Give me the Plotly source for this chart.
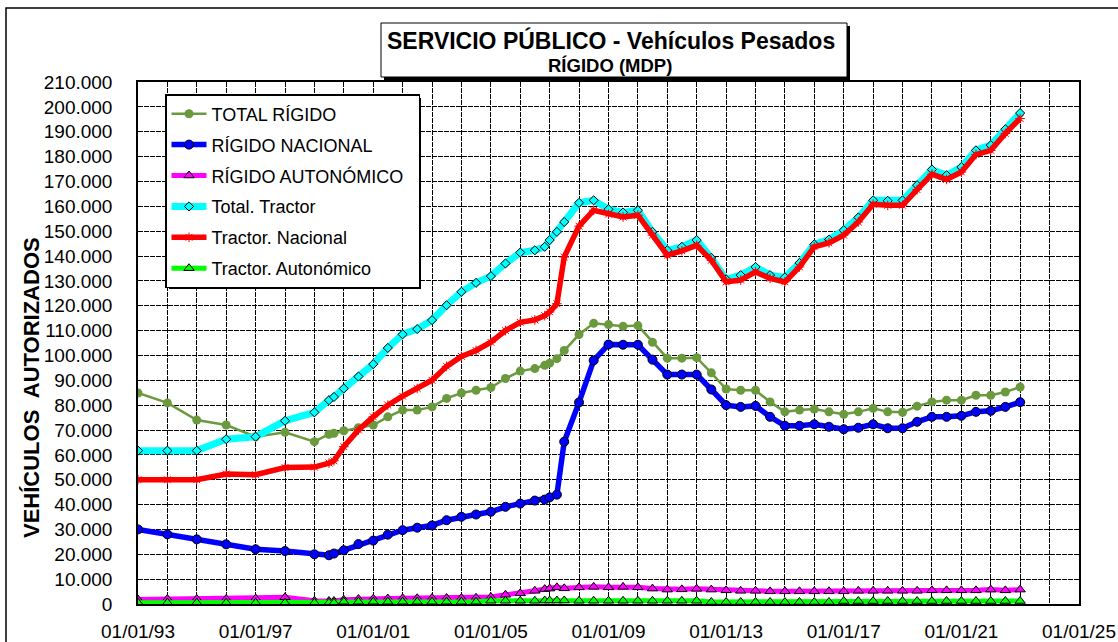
import plotly.graph_objects as go

# ---------------- data ----------------
dates = [
    "1993-01-01", "1994-01-01", "1995-01-01", "1996-01-01", "1997-01-01", "1998-01-01", "1999-01-01",
    "1999-07-01", "1999-09-01",
    "2000-01-01", "2000-07-01", "2001-01-01", "2001-07-01", "2002-01-01", "2002-07-01", "2003-01-01",
    "2003-07-01", "2004-01-01", "2004-07-01", "2005-01-01", "2005-07-01", "2006-01-01", "2006-07-01",
    "2006-11-01", "2007-01-01", "2007-04-01", "2007-07-01",
    "2008-01-01", "2008-07-01", "2009-01-01", "2009-07-01", "2010-01-01", "2010-07-01", "2011-01-01",
    "2011-07-01", "2012-01-01", "2012-07-01", "2013-01-01", "2013-07-01", "2014-01-01", "2014-07-01",
    "2015-01-01", "2015-07-01", "2016-01-01", "2016-07-01", "2017-01-01", "2017-07-01", "2018-01-01",
    "2018-07-01", "2019-01-01", "2019-07-01", "2020-01-01", "2020-07-01", "2021-01-01", "2021-07-01",
    "2022-01-01", "2022-07-01", "2023-01-01",
]

total_rigido = [
    84900, 80900, 74000, 72000, 67300, 69100, 65300,
    68300, 68700,
    69700, 70900, 72000, 75300, 78000, 78000, 79300, 82700, 84900, 86000, 87100, 90700, 93700, 94700,
    96000, 96900, 98700, 102000,
    108400, 112900, 112400, 111700, 112000, 105300, 98900, 98900, 99100, 93000, 86500, 86000, 86000,
    81300, 77300, 78000, 78400, 77300, 76300, 77300, 78700, 77300, 77100, 79600, 81300, 82000, 82000,
    84000, 84000, 85300, 87300,
]

rigido_nacional = [
    30000, 28000, 26000, 24000, 22000, 21300, 20000,
    19600, 20300,
    21600, 24100, 25500, 27900, 29700, 30700, 31600, 33700, 35100, 36000, 37100, 39100, 40400, 41600,
    42000, 42900, 44000, 65300,
    81100, 98000, 104400, 104300, 104300, 98300, 92300, 92300, 92300, 86300, 80000, 79300, 79700,
    75300, 71700, 71700, 72300, 71300, 70300, 70900, 72300, 70700, 70700, 73300, 75300, 75300, 75700,
    77300, 77700, 79300, 81200,
]

rigido_autonomico = [
    1800, 2000, 2000, 2000, 2200, 2700, 1300,
    1200, 1200,
    1700, 2000, 2100, 2200, 2300, 2300, 2400, 2400, 2400, 2500, 2800, 3700, 4300, 5300,
    6000, 6200, 6700, 6300,
    6700, 6900, 6700, 6900, 6700, 6200, 5800, 5900, 6100, 5800, 5500, 5300, 5300,
    5100, 5100, 5100, 5100, 5100, 5100, 5300, 5300, 5300, 5300, 5300, 5500, 5500, 5500,
    5500, 5800, 5500, 5800,
]

total_tractor = [
    61700, 61700, 61700, 66300, 67300, 73700, 77100,
    82000, 83300,
    86700, 91500, 96500, 103000, 108500, 110600, 114200, 120200, 125600, 129200, 131900, 137000, 141400, 142300,
    143700, 146400, 149700, 153700,
    161400, 162400, 158800, 157500, 158400, 149700, 142300, 143700, 146400, 139300, 130600, 132300, 135600,
    132300, 131400, 137200, 144700, 146600, 150400, 155500, 162400, 162200, 162400, 168500, 174800, 172500, 175800,
    182500, 184600, 191000, 197500,
]

tractor_nacional = [
    50000, 50000, 50000, 52300, 52000, 54900, 55100,
    56700, 57600,
    63300, 70000, 75300, 80000, 83600, 86700, 90000, 95600, 99600, 102000, 105300, 110000, 113300, 114300,
    116000, 117500, 120800, 139600,
    152000, 158400, 156800, 155700, 156400, 148400, 140300, 142100, 144300, 138300, 129600, 130300, 133600,
    131000, 129600, 135600, 143700, 145300, 148400, 153700, 160800, 160400, 160400, 166700, 172900, 170800, 173800,
    180800, 182500, 189300, 195300,
]

tractor_autonomico = [
    500, 500, 500, 500, 500, 500, 500,
    500, 500,
    900, 900, 900, 900, 900, 900, 900, 900, 900, 900, 1300, 1300, 1300, 1300,
    1400, 1400, 1400, 1400,
    1300, 1300, 1300, 1300, 1300, 1300, 1300, 1300, 1300, 800, 800, 800, 800,
    800, 800, 800, 800, 800, 1200, 1200, 1200, 1200, 1200, 1200, 1200, 1200, 1200,
    1200, 1200, 1200, 1200,
]

series_names = ["TOTAL RÍGIDO", "RÍGIDO NACIONAL", "RÍGIDO AUTONÓMICO\u00a0\u00a0",
                "Total. Tractor", "Tractor. Nacional", "Tractor. Autonómico"]

# ---------------- layout geometry ----------------
W, H = 1118, 642
ML, MR, MT, MB = 138, 39, 82, 38
PW, PH = W - ML - MR, H - MT - MB


def px_x(px):
    return (px - ML) / PW


def px_y(py):
    return (H - MB - py) / PH


FONT = "Liberation Sans, Arial, sans-serif"

fig = go.Figure()

styles = [
    dict(data=total_rigido, color="#6B9A3E", width=2.5,
         marker=dict(symbol="circle", size=9, color="#6B9A3E", line=dict(width=0))),
    dict(data=rigido_nacional, color="#0000FF", width=5.5,
         marker=dict(symbol="circle", size=9, color="#0000FF", line=dict(width=1, color="black"))),
    dict(data=rigido_autonomico, color="#FF00FF", width=5,
         marker=dict(symbol="triangle-up", size=9, color="#FF00FF", line=dict(width=1, color="black"))),
    dict(data=total_tractor, color="#00FFFF", width=7,
         marker=dict(symbol="diamond", size=7, color="#00FFFF", line=dict(width=1, color="black"))),
    dict(data=tractor_nacional, color="#FF0000", width=5.5,
         marker=dict(symbol="asterisk-open", size=8, color="#FF0000", line=dict(width=1, color="#FF0000"))),
    dict(data=tractor_autonomico, color="#00FF00", width=5,
         marker=dict(symbol="triangle-up", size=9, color="#00FF00", line=dict(width=1, color="black"))),
]

for i, (name, st) in enumerate(zip(series_names, styles)):
    fig.add_trace(go.Scatter(
        x=dates, y=st["data"], name=name, mode="lines+markers",
        line=dict(color=st["color"], width=st["width"]),
        marker=st["marker"], legendgroup=f"g{i}",
    ))

grid = dict(gridcolor="black", gridwidth=1, griddash="5px,1px")

fig.update_xaxes(
    type="date", range=["1993-01-01", "2025-01-01"],
    tick0="1993-01-01", dtick="M48", tickformat="%d/%m/%y",
    showgrid=True, **grid,
    minor=dict(dtick="M12", showgrid=True, **grid),
    showline=True, linecolor="black", linewidth=1.5, mirror=True,
    ticks="", tickfont=dict(family=FONT, size=19, color="black"),
    ticklabelstandoff=9, automargin=False,
    zeroline=False,
)
fig.update_yaxes(
    range=[0, 210000], dtick=10000, tickformat=",d",
    showgrid=True, **grid,
    showline=True, linecolor="black", linewidth=1.5, mirror=True,
    ticks="", tickfont=dict(family=FONT, size=19, color="black"),
    ticklabelstandoff=20, automargin=False,
    zeroline=False,
)

LEG_TOP = 94

shapes = [
    # outer chart frame
    dict(type="rect", xref="paper", yref="paper",
         x0=px_x(6), x1=px_x(1140), y0=px_y(670), y1=px_y(8),
         line=dict(color="black", width=1.5), fillcolor="rgba(0,0,0,0)", layer="below"),
    # title shadow + box
    dict(type="rect", xref="paper", yref="paper",
         x0=px_x(384), x1=px_x(850), y0=px_y(80), y1=px_y(26),
         line=dict(width=0), fillcolor="black", layer="above"),
    dict(type="rect", xref="paper", yref="paper",
         x0=px_x(381), x1=px_x(847), y0=px_y(77), y1=px_y(23),
         line=dict(color="black", width=1), fillcolor="white", layer="above"),
    # legend shadow
    dict(type="rect", xref="paper", yref="paper",
         x0=px_x(169), x1=px_x(421), y0=px_y(289), y1=px_y(LEG_TOP + 4),
         line=dict(width=0), fillcolor="black", layer="above"),
]

annotations = [
    dict(text="<b>SERVICIO PÚBLICO - Vehículos Pesados</b>", xref="paper", yref="paper",
         x=px_x(611), y=px_y(40.5), xanchor="center", yanchor="middle", showarrow=False,
         font=dict(family=FONT, size=23, color="black")),
    dict(text="<b>RÍGIDO (MDP)</b>", xref="paper", yref="paper",
         x=px_x(610), y=px_y(66), xanchor="center", yanchor="middle", showarrow=False,
         font=dict(family=FONT, size=18.5, color="black")),
    dict(text="<b>VEHÍCULOS  AUTORIZADOS</b>", xref="paper", yref="paper",
         x=px_x(31), y=px_y(388), xanchor="center", yanchor="middle", showarrow=False,
         textangle=-90, font=dict(family=FONT, size=22, color="black")),
]

fig.update_layout(
    width=W, height=H, autosize=False,
    margin=dict(l=ML, r=MR, t=MT, b=MB, pad=0, autoexpand=False),
    paper_bgcolor="white", plot_bgcolor="white",
    separators=",.",
    font=dict(family=FONT, color="black"),
    showlegend=True,
    legend=dict(
        x=px_x(165), y=px_y(LEG_TOP), xanchor="left", yanchor="top",
        bgcolor="white", bordercolor="black", borderwidth=1.5,
        font=dict(family=FONT, size=18, color="black"),
        tracegroupgap=4.5, itemwidth=35,
    ),
    shapes=shapes,
    annotations=annotations,
)

fig.write_html(
    "out.html",
    config={"displayModeBar": False},
    post_script="document.body.style.margin='0';document.body.style.padding='0';document.body.style.overflow='hidden';",
)
